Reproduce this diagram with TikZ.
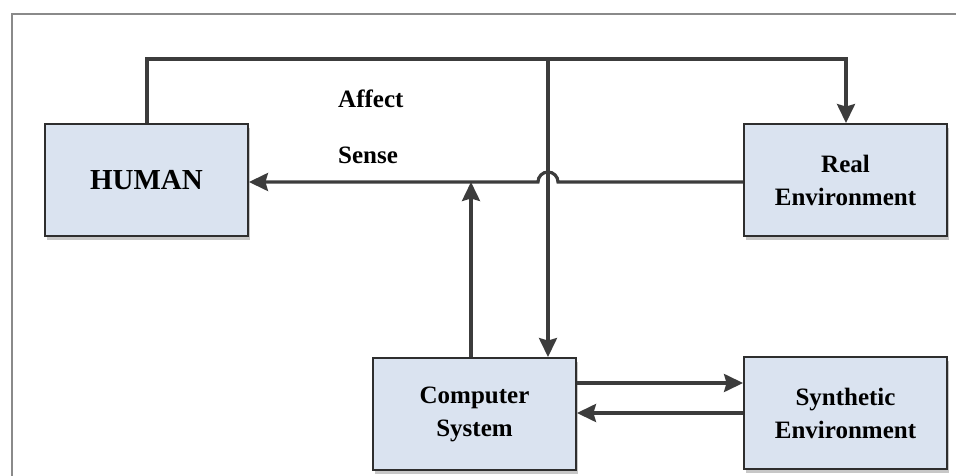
\documentclass[tikz,border=0pt]{standalone}
\usepackage{fontspec}
\setmainfont{Liberation Serif}
\usetikzlibrary{arrows.meta,shadows}
\definecolor{boxfill}{HTML}{DAE3F0}
\definecolor{boxline}{HTML}{2E2E2E}
\definecolor{wire}{HTML}{3C3C3C}
\definecolor{frameline}{HTML}{8A8A8A}
\tikzset{
  block/.style={draw=boxline, line width=1.9pt, fill=boxfill,
    minimum width=203pt, minimum height=112pt, inner sep=0pt, align=center,
    font=\fontsize{25}{33}\selectfont\bfseries,
    drop shadow={shadow xshift=2pt, shadow yshift=-4pt, fill=black, opacity=0.22}},
  wireline/.style={draw=wire, line width=3.2pt},
  flow/.style={wireline, -{Stealth[length=19pt,width=18pt,inset=2.5pt]}},
  tag/.style={font=\fontsize{25}{30}\selectfont\bfseries, inner sep=0pt}
}
\begin{document}
\begin{tikzpicture}[x=1pt,y=1pt]
  \useasboundingbox (0,0) rectangle (956,475);
  % outer frame, open towards the right and bottom
  \draw[frameline, line width=2.2pt] (12,-5) -- (12,461) -- (961,461);

  % blocks
  \node[block] (human) at (146.5,295) {\fontsize{29}{33}\selectfont HUMAN};
  \node[block] (real)  at (845.5,295) {Real\\Environment};
  \node[block] (comp)  at (474.5,61)  {Computer\\System};
  \node[block] (synth) at (845.5,62)  {Synthetic\\Environment};

  % labels
  \node[tag, anchor=base west] (affect) at (338,367) {Affect};
  \node[tag, anchor=base west] (sense)  at (338,312) {Sense};

  % routing points
  \coordinate (tl) at (147,416);
  \coordinate (tm) at (548,416);
  \coordinate (tr) at (846,416);
  \coordinate (senseline) at (471,293);

  % affect loop from the human over the top
  \draw[flow] (human.north -| tl) -- (tl) -- (tr) -- (real.north -| tr);
  \draw[flow] (tm) -- (comp.north -| tm);

  % sensing path with a hop over the vertical wire
  \draw[flow] (real.west |- senseline) -- (558,293)
      arc[start angle=0, end angle=180, radius=10pt] -- (human.east |- senseline);

  % computer system feeds into the sensing path
  \draw[flow] (comp.north -| senseline) -- (senseline);

  % computer <-> synthetic environment
  \draw[flow] (comp.east |- 0,92) -- (synth.west |- 0,92);
  \draw[flow] (synth.west |- 0,62) -- (comp.east |- 0,62);
\end{tikzpicture}
\end{document}
